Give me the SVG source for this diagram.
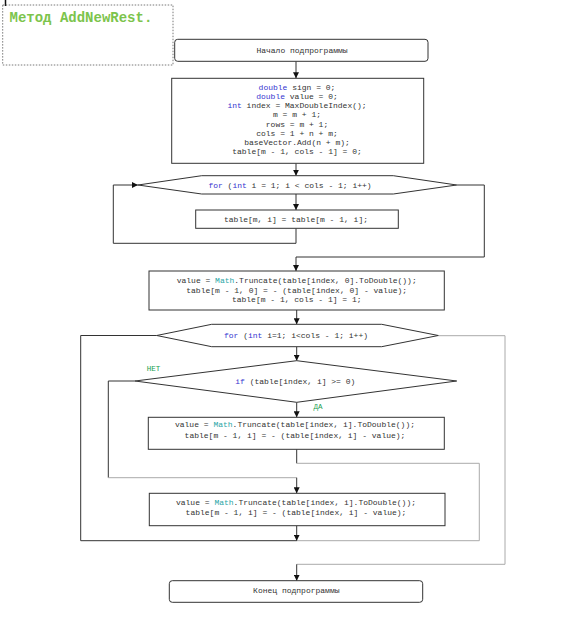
<svg xmlns="http://www.w3.org/2000/svg" width="576" height="629" viewBox="0 0 576 629">
<style>
.t{font-family:"Liberation Mono","Courier New",monospace;font-size:8px;fill:#333;text-anchor:middle}
.k{fill:#3535d0}
.m{fill:#2aa6a6}
.box{fill:#fff;stroke:#333;stroke-width:1}
.c{fill:none;stroke:#333;stroke-width:1}
.g{fill:none;stroke:#aaa;stroke-width:1}
.lbl{font-family:"Liberation Mono","Courier New",monospace;font-size:7.5px;fill:#22a050}
</style>
<defs>
<marker id="ah" markerWidth="6" markerHeight="6" refX="6" refY="3" orient="auto" markerUnits="userSpaceOnUse">
<path d="M0,0 L6,3 L0,6 Z" fill="#111"/>
</marker>
</defs>
<rect width="576" height="629" fill="#fff"/>
<g id="note">
<line x1="5.5" y1="0" x2="5.5" y2="6" stroke="#111" stroke-width="1.5"/>
<rect x="2.7" y="5" width="170.3" height="60" fill="none" stroke="#555" stroke-width="0.8" stroke-dasharray="1.5,1.5"/>
<text x="9.5" y="22" style="font-family:'Liberation Mono','Courier New',monospace;font-size:14px;font-weight:bold;fill:#7cc44c">Метод AddNewRest.</text>
</g>
<g id="connectors">
<path class="c" d="M296,61.3 V78.3" marker-end="url(#ah)"/>
<path class="c" d="M296,163.3 V175.7" marker-end="url(#ah)"/>
<path class="c" d="M296,194 V210" marker-end="url(#ah)"/>
<path class="c" d="M296,228.3 V243.3 H113.3 V185 H138" marker-end="url(#ah)"/>
<path class="c" d="M456.7,185 H484.3 V257 H296 V271" marker-end="url(#ah)"/>
<path class="c" d="M296.7,310 V324.3" marker-end="url(#ah)"/>
<path class="c" d="M296.7,346.7 V360.7" marker-end="url(#ah)"/>
<path class="c" d="M296.7,402.3 V417.3" marker-end="url(#ah)"/>
<path class="c" d="M135,381 H108.3 V477.7"/>
<path class="g" d="M108.3,477.7 H296.7"/>
<path class="c" d="M296.7,477.7 V493.3" marker-end="url(#ah)"/>
<path class="c" d="M296.7,449.3 V463.3"/>
<path class="g" d="M296.7,463.3 H479.3 V540.7 H296.7"/>
<path class="c" d="M296.7,540.7 H80.7 V335.5 H156.7"/>
<path class="c" d="M296.7,525.7 V540.7" marker-end="url(#ah)"/>
<path class="g" d="M438.3,335.7 H505 V564.3 H296.7"/>
<path class="c" d="M296.7,564.3 V580.7" marker-end="url(#ah)"/>
</g>
<g id="start">
<rect class="box" x="174.7" y="39.3" width="253.3" height="22" rx="3"/>
<text class="t" x="302" y="53">Начало подпрограммы</text>
</g>
<g id="init">
<rect class="box" x="171.7" y="78.3" width="252" height="85"/>
<text class="t" x="297" y="89.8"><tspan class="k">double</tspan> sign = 0;</text>
<text class="t" x="297" y="99"><tspan class="k">double</tspan> value = 0;</text>
<text class="t" x="297" y="108.2"><tspan class="k">int</tspan> index = MaxDoubleIndex();</text>
<text class="t" x="297" y="117.4">m = m + 1;</text>
<text class="t" x="297" y="126.6">rows = m + 1;</text>
<text class="t" x="297" y="135.8">cols = 1 + n + m;</text>
<text class="t" x="297" y="145">baseVector.Add(n + m);</text>
<text class="t" x="297" y="154.2">table[m - 1, cols - 1] = 0;</text>
</g>
<g id="loop1">
<polygon class="box" points="138,185 201.7,175.7 393.3,175.7 456.7,185 393.3,194 201.7,194"/>
<text class="t" x="290" y="187.8"><tspan class="k">for</tspan> (<tspan class="k">int</tspan> i = 1; i &lt; cols - 1; i++)</text>
</g>
<g id="copy">
<rect class="box" x="195.7" y="210" width="202.6" height="18.3"/>
<text class="t" x="296" y="221.8">table[m, i] = table[m - 1, i];</text>
</g>
<g id="trunc0">
<rect class="box" x="149" y="271" width="295.3" height="39"/>
<text class="t" x="296.7" y="283.1">value = <tspan class="m">Math</tspan>.Truncate(table[index, 0].ToDouble());</text>
<text class="t" x="296.7" y="292.8">table[m - 1, 0] = - (table[index, 0] - value);</text>
<text class="t" x="296.7" y="302.1">table[m - 1, cols - 1] = 1;</text>
</g>
<g id="loop2">
<polygon class="box" points="156.7,335.5 211.7,324.3 381.7,324.3 438.3,335.5 381.7,346.7 211.7,346.7"/>
<text class="t" x="296" y="338.3"><tspan class="k">for</tspan> (<tspan class="k">int</tspan> i=1; i&lt;cols - 1; i++)</text>
</g>
<g id="cond">
<polygon class="box" points="296.7,360.7 456.7,381 296.7,402.3 135,381"/>
<text class="t" x="295.3" y="383.8"><tspan class="k">if</tspan> (table[index, i] &gt;= 0)</text>
<text class="lbl" x="146.7" y="371">НЕТ</text>
<text class="lbl" x="313.5" y="408.6">ДА</text>
</g>
<g id="yes">
<rect class="box" x="148.3" y="417.3" width="296" height="32"/>
<text class="t" x="295" y="427.1">value = <tspan class="m">Math</tspan>.Truncate(table[index, i].ToDouble());</text>
<text class="t" x="295" y="438.1">table[m - 1, i] = - (table[index, i] - value);</text>
</g>
<g id="no">
<rect class="box" x="149.3" y="493.3" width="295.7" height="32.4"/>
<text class="t" x="296" y="504.5">value = <tspan class="m">Math</tspan>.Truncate(table[index, i].ToDouble());</text>
<text class="t" x="296" y="514.5">table[m - 1, i] = - (table[index, i] - value);</text>
</g>
<g id="end">
<rect class="box" x="169.3" y="580.7" width="253.4" height="21.6" rx="3"/>
<text class="t" x="296.3" y="592.8">Конец подпрограммы</text>
</g>
</svg>
